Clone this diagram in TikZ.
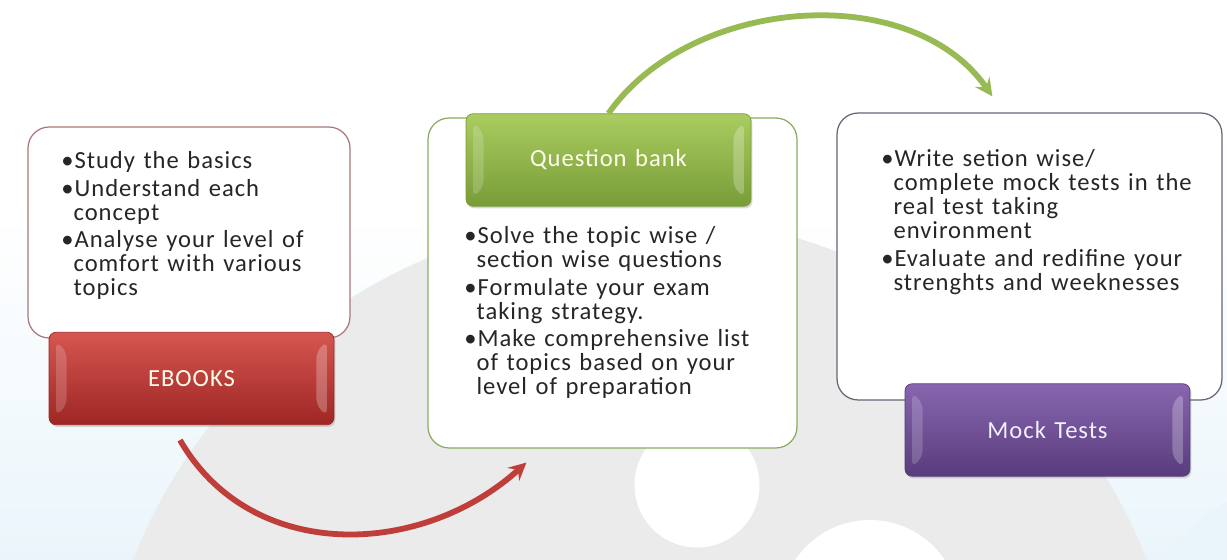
\documentclass[tikz,border=0pt]{standalone}
\usepackage{fontspec}
\setmainfont{Carlito}
\newfontfamily\spacedfont[LetterSpace=4,WordSpace=1.3]{Carlito}
\usetikzlibrary{calc,positioning,arrows,shapes,shadows}
\definecolor{ebredtop}{RGB}{214,86,80}
\definecolor{ebred}{RGB}{192,62,58}
\definecolor{ebreddk}{RGB}{158,38,36}
\definecolor{ebline}{RGB}{168,120,122}
\definecolor{qbgreentop}{RGB}{170,204,96}
\definecolor{qbgreen}{RGB}{152,186,82}
\definecolor{qbgreendk}{RGB}{120,156,56}
\definecolor{qbline}{RGB}{140,170,96}
\definecolor{mkpurpletop}{RGB}{136,102,176}
\definecolor{mkpurple}{RGB}{118,84,158}
\definecolor{mkpurpledk}{RGB}{88,60,124}
\definecolor{mkline}{RGB}{104,100,118}
\definecolor{bgblue}{RGB}{234,245,251}
\definecolor{bggray}{RGB}{235,235,235}
\definecolor{notetext}{RGB}{38,38,38}
\newcommand{\itm}{\textbullet}
\newcommand{\cnt}{\hphantom{\textbullet}}

\begin{document}
\begin{tikzpicture}[x=0.02cm,y=-0.02cm,
	card/.style={draw,fill=white,rounded corners=12pt,line width=0.7pt,inner sep=0pt},
	tab/.style={rounded corners=4pt,minimum width=5.7cm,minimum height=1.85cm,inner sep=0pt,
		font=\spacedfont\fontsize{14}{16}\selectfont,
		drop shadow={opacity=0.3,shadow xshift=0.8pt,shadow yshift=-1.2pt},
		path picture={
			\fill[white,opacity=0.18] ([xshift=4pt,yshift=-5pt]path picture bounding box.north west) -- ([xshift=10pt,yshift=-11pt]path picture bounding box.north west) -- ([xshift=10pt,yshift=11pt]path picture bounding box.south west) -- ([xshift=4pt,yshift=5pt]path picture bounding box.south west) -- cycle;
			\fill[white,opacity=0.25] ([xshift=-4pt,yshift=-5pt]path picture bounding box.north east) -- ([xshift=-10pt,yshift=-11pt]path picture bounding box.north east) -- ([xshift=-10pt,yshift=11pt]path picture bounding box.south east) -- ([xshift=-4pt,yshift=5pt]path picture bounding box.south east) -- cycle;}},
	notes/.style={align=left,inner sep=0pt,anchor=north west,text=notetext,font=\spacedfont\fontsize{14}{13.7}\selectfont},
	flow/.style={line width=3.3pt,-stealth}]
	\useasboundingbox (0,0) rectangle (1227,560);
	\fill[white] (0,0) rectangle (1227,560);
	\shade[top color=white,bottom color=bgblue] (0,210) rectangle (1227,560);
	\begin{scope}
		\clip (0,0) rectangle (1227,560);
		\fill[bggray] (640,760) circle (10.9cm);
		\fill[bgblue] (1350,720) circle (5cm);
		\fill[white] (697,485) circle (1.25cm);
		\fill[white] (870,610) circle (1.8cm);
	\end{scope}

	\node[card,draw=ebline,minimum width=6.44cm,minimum height=4.22cm] (ebbox) at (189,232.5) {};
	\node[card,draw=qbline,minimum width=7.38cm,minimum height=6.6cm] (qbbox) at (612.5,283) {};
	\node[card,draw=mkline,minimum width=7.7cm,minimum height=5.74cm] (mkbox) at (1029.5,256.5) {};

	\node[tab,top color=ebredtop,middle color=ebred,bottom color=ebreddk,draw=ebreddk,text=white!92!yellow] (ebtab) at (191.5,378.5) {EBOOKS};
	\node[tab,top color=qbgreentop,middle color=qbgreen,bottom color=qbgreendk,draw=qbgreendk,text=white!92!yellow] (qbtab) at (608.5,160) {Question bank};
	\node[tab,top color=mkpurpletop,middle color=mkpurple,bottom color=mkpurpledk,draw=mkpurpledk,text=white!94!blue] (mktab) at (1047.5,430) {Mock Tests};

	\node[notes] (ebnotes) at (61,151) {\itm Study the basics\\[2pt] \itm Understand each\\ \cnt concept\\[2pt] \itm Analyse your level of\\ \cnt comfort with various\\ \cnt topics};
	\node[notes] (qbnotes) at (464,226) {\itm Solve the topic wise /\\ \cnt section wise questions\\[2pt] \itm Formulate your exam\\ \cnt taking strategy.\\[2pt] \itm Make comprehensive list\\ \cnt of topics based on your\\ \cnt level of preparation};
	\node[notes] (mknotes) at (881,149) {\itm Write setion wise/\\ \cnt complete mock tests in the\\ \cnt real test taking\\ \cnt environment\\[2pt] \itm Evaluate and redifine your\\ \cnt strenghts and weeknesses};

	\coordinate (ebout) at ([xshift=-0.23cm,yshift=-0.3cm]ebtab.south);
	\coordinate (qbin) at ([xshift=1.98cm,yshift=-0.28cm]qbbox.south west);
	\coordinate (mkin) at ([xshift=3.12cm,yshift=0.32cm]mkbox.north west);
	\draw[flow,ebred] (ebout) to[out=-60,in=-138,looseness=1.05] (qbin);
	\draw[flow,qbgreen] (qbtab.north) to[out=55,in=125,looseness=0.95] (mkin);
\end{tikzpicture}
\end{document}
